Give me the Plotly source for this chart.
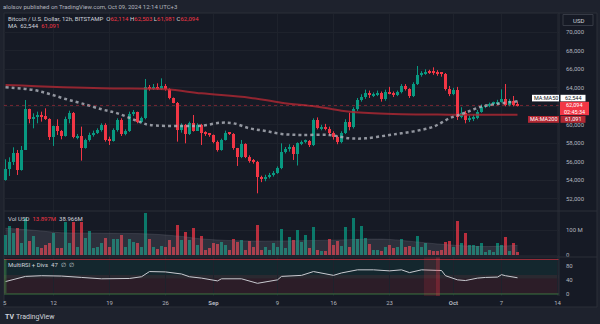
import plotly.graph_objects as go
import pandas as pd

W, H = 600, 324
LM, RM, TM, BM = 4, 41, 14, 28
PW, PH = W - LM - RM, H - TM - BM

def fx(x):
    return (x - LM) / PW

def fy(y):
    return 1 - (y - TM) / PH

# ---------------- data ----------------
start = pd.Timestamp("2024-08-06 00:00")
n_candles = 129
dates = pd.date_range(start, periods=n_candles, freq="12h")

opens = [54035, 55224, 56017, 56918, 55116, 57278, 61674, 60665, 60845, 60953,
         60917, 60665, 58719, 59872, 59332, 58827, 60593, 61313, 58647, 58755,
         57530, 58359, 58863, 59151, 59440, 59980, 58359, 58287, 59440, 60521,
         59007, 59332, 61133, 61349, 60340, 60701, 64052, 63835, 64124, 63907,
         64232, 63835, 62863, 62394, 59440, 59980, 59007, 60161, 59368, 59980,
         59079, 59007, 58899, 58179, 57278, 58359, 59079, 59007, 57458, 56485,
         57926, 56557, 56125, 56017, 54395, 54107, 54395, 54576, 54828, 55296,
         57098, 57350, 57638, 56846, 57998, 58179, 58250, 57818, 60521, 59620,
         59800, 59600, 59079, 58647, 58179, 59151, 60340, 59800, 61674, 62682,
         62971, 63475, 63187, 63300, 63403, 62754, 63583, 63403, 63259, 63547,
         64196, 63835, 63115, 64412, 65385, 65565, 65745, 65673, 65600, 65565,
         65493, 63835, 63295, 63763, 60881, 61241, 60521, 60700, 60773, 61421,
         61962, 62034, 62250, 62322, 62502, 62754, 62142, 62610, 62114]
highs = [56269, 56485, 57566, 57278, 57710, 62682, 61746, 61241, 61421, 61421,
         61782, 60701, 59908, 60593, 59440, 60881, 61530, 61385, 59007, 59800,
         58503, 59151, 59368, 59620, 60161, 60161, 58719, 59620, 60701, 60701,
         59512, 61421, 61602, 61421, 60881, 64952, 64304, 64412, 64484, 65024,
         64412, 63943, 62950, 62466, 60161, 60089, 60341, 61061, 60161, 60100,
         59300, 59100, 58950, 58300, 58500, 59368, 59200, 59100, 57500, 58359,
         58000, 56700, 56300, 56100, 54500, 54600, 54800, 55000, 55500, 57998,
         57600, 57900, 57800, 58100, 58300, 58400, 58350, 60700, 60800, 60000,
         60100, 59800, 59300, 58800, 59300, 60600, 61300, 61900, 62900, 63300,
         63800, 63700, 63500, 63700, 63600, 63800, 64100, 63600, 63700, 64400,
         64400, 63950, 64600, 66357, 65800, 66000, 65950, 66213, 65900, 65700,
         65600, 64200, 64000, 64100, 61900, 61500, 61000, 61100, 61600, 62200,
         62200, 62400, 62500, 62700, 63835, 64412, 62800, 63115, 62503]
lows = [53963, 54468, 55657, 54576, 55044, 57278, 60161, 59620, 60161, 60341,
        60521, 58359, 57710, 58899, 58431, 58719, 60161, 58539, 58431, 56125,
        57422, 58179, 58719, 59007, 59260, 58179, 57818, 58179, 59260, 58791,
        58863, 59224, 60953, 60161, 60161, 60593, 63691, 63763, 63763, 63763,
        63691, 62754, 62322, 58179, 59151, 57999, 58899, 59260, 59332, 57818,
        58800, 58700, 58000, 57100, 57200, 58300, 58900, 57300, 55548, 56400,
        56400, 55900, 55800, 52594, 53800, 53900, 54200, 54400, 54700, 55200,
        56900, 57100, 56197, 55600, 57800, 58000, 57600, 57700, 59500, 59400,
        59400, 58900, 58400, 57900, 58000, 59000, 59400, 59600, 61500, 62500,
        62800, 62900, 63000, 63100, 62500, 62600, 63300, 63000, 63100, 63400,
        63700, 62900, 63000, 64300, 65200, 65400, 65500, 65400, 65300, 65200,
        63700, 63100, 63200, 60521, 60700, 60160, 60300, 60400, 60600, 61300,
        61800, 61900, 62100, 62200, 62400, 62000, 62000, 62000, 61981]
closes = [55224, 56017, 56918, 55116, 57278, 61674, 60665, 60845, 60953, 60917,
          60665, 58719, 59872, 59332, 58827, 60593, 61313, 58647, 58755, 57530,
          58359, 58863, 59151, 59440, 59980, 58359, 58287, 59440, 60521, 59007,
          59332, 61133, 61349, 60340, 60701, 64052, 63835, 64124, 63907, 64232,
          63835, 62863, 62394, 59440, 59980, 59007, 60161, 59368, 59980, 59079,
          59007, 58899, 58179, 57278, 58359, 59079, 59007, 57458, 56485, 57926,
          56557, 56125, 56017, 54395, 54107, 54395, 54576, 54828, 55296, 57098,
          57350, 57638, 56846, 57998, 58179, 58250, 57818, 60521, 59620, 59800,
          59600, 59079, 58647, 58179, 59151, 60340, 59800, 61674, 62682, 62971,
          63475, 63187, 63300, 63403, 62754, 63583, 63403, 63259, 63547, 64196,
          63835, 63115, 64412, 65385, 65565, 65745, 65673, 65600, 65565, 65493,
          63835, 63295, 63763, 60881, 61241, 60521, 60700, 60773, 61421, 61962,
          62034, 62250, 62322, 62502, 62754, 62142, 62610, 62142, 62094]
volumes_m = [81, 117, 90, 108, 47, 148, 57, 77, 34, 27, 40, 50, 90, 27, 27, 135, 50, 132,
             34, 135, 67, 98, 27, 31, 47, 67, 34, 64, 64, 81, 34, 64, 54, 50, 34, 169,
             64, 34, 23, 37, 34, 60, 34, 121, 60, 94, 60, 108, 40, 77, 20, 27, 47, 44,
             51, 40, 20, 65, 51, 61, 20, 57, 34, 121, 20, 34, 20, 47, 34, 105, 27, 74,
             61, 101, 51, 81, 30, 115, 20, 18, 16, 65, 40, 57, 38, 115, 34, 148, 65, 119,
             70, 44, 20, 20, 17, 34, 40, 27, 34, 64, 34, 36, 34, 77, 34, 47, 20, 17,
             17, 20, 54, 57, 31, 138, 50, 90, 40, 40, 36, 50, 13, 20, 13, 50, 40, 72,
             17, 50, 13.897]

# moving averages / indicator read at sampled candles (candle index, value)
ma50_idx = [0, 7, 11, 15, 19, 24, 28, 34, 36, 44, 49, 54, 57, 61, 65, 69, 74, 81, 86,
            90, 96, 99, 103, 107, 111, 115, 119, 124, 128]
ma50_val = [64052, 63763, 63331, 62791, 62322, 61674, 61241, 60232, 59980, 59872, 59908,
            60232, 60160, 59620, 59332, 59007, 58899, 58899, 58539, 58539, 58899, 59079,
            59368, 59800, 60701, 61313, 61962, 62322, 62544]
ma200_idx = [0, 24, 40, 49, 61, 69, 78, 84, 92, 99, 111, 128]
ma200_val = [64304, 63943, 63835, 63403, 62935, 62394, 61962, 61530, 61241, 61133, 61097, 61091]
volma_idx = [0, 7, 14, 24, 36, 44, 49, 57, 65, 74, 82, 90, 96, 102, 110, 119, 128]
volma_val = [108, 100, 90, 88, 85, 75, 65, 58, 56, 58, 60, 64, 63, 54, 42, 34, 38.966]
rsi_idx = [0, 5, 9, 14, 19, 24, 31, 34, 36, 40, 44, 46, 49, 53, 54, 59, 63, 68, 69, 74,
           77, 82, 84, 88, 92, 96, 99, 101, 104, 108, 109, 110, 113, 115, 118, 120, 123,
           124, 125, 128]
rsi_val = [36, 51, 53, 52, 48, 44, 45, 50, 65, 64, 58, 50, 46, 38, 44, 44, 31, 41, 51, 54,
           65, 54, 61, 70, 70, 67, 70, 62, 70, 70, 68, 53, 41, 39, 46, 48, 49, 56, 53, 47]
rsi_last = 47
countdown = "02:45:34"

# x-axis labels
tick_dates = ["2024-08-12", "2024-08-19", "2024-08-26", "2024-09-01", "2024-09-09",
              "2024-09-16", "2024-09-23", "2024-10-01", "2024-10-07", "2024-10-14"]
tick_text = ["12", "19", "26", "<b>Sep</b>", "9", "16", "23", "<b>Oct</b>", "7", "14"]
price_ticks = list(range(52000, 70001, 2000))

# ---------------- styles ----------------
GREEN = "#089981"
RED = "#f23645"
MA200C = "#b22833"
MA50C = "#b2b5be"
TXT = "#b2b5be"
GRID = "#1e222c"
PANEL = "#161a25"
OUTER = "#1e222d"
SEP = "#2a2e39"
FONT = "Roboto"
half = pd.Timedelta(hours=12)
xr = [start - half * 0.375, start + half * 138.375]
bw = 9 * 3600 * 1000  # body width (3 px)

up = [c >= o for o, c in zip(opens, closes)]
d_at = lambda i: start + half * i

fig = go.Figure()

# wicks
for flag, col in ((True, GREEN), (False, RED)):
    wx, wy = [], []
    for i in range(n_candles):
        if up[i] == flag:
            wx += [dates[i], dates[i], None]
            wy += [lows[i], highs[i], None]
    fig.add_trace(go.Scatter(x=wx, y=wy, mode="lines", line=dict(color=col, width=1),
                             hoverinfo="skip", yaxis="y"))

# bodies
fig.add_trace(go.Bar(x=dates, base=[min(o, c) for o, c in zip(opens, closes)],
                     y=[max(abs(c - o), 110) for o, c in zip(opens, closes)],
                     width=bw, marker=dict(color=[GREEN if u else RED for u in up], line=dict(width=0)),
                     yaxis="y"))

# MAs
fig.add_trace(go.Scatter(x=[d_at(i) for i in ma200_idx], y=ma200_val, mode="lines",
                         line=dict(color=MA200C, width=2, shape="spline"), opacity=0.8, yaxis="y"))
fig.add_trace(go.Scatter(x=[d_at(i) for i in ma50_idx], y=ma50_val, mode="lines",
                         line=dict(color=MA50C, width=2.5, dash="dot", shape="spline"), opacity=0.8, yaxis="y"))

# volume MA area and bars
fig.add_trace(go.Scatter(x=[d_at(i) for i in volma_idx], y=[v * 1e6 for v in volma_val],
                         mode="lines", fill="tozeroy",
                         line=dict(color="rgba(120,123,134,0.25)", width=1, shape="spline"),
                         fillcolor="rgba(120,123,134,0.24)", yaxis="y2"))
fig.add_trace(go.Bar(x=dates, y=[v * 1e6 for v in volumes_m], width=bw,
                     marker=dict(color=["rgba(8,153,129,0.75)" if u else "rgba(242,54,69,0.75)" for u in up],
                                 line=dict(width=0)), yaxis="y2"))

# RSI
fig.add_trace(go.Scatter(x=[d_at(i) for i in rsi_idx], y=rsi_val, mode="lines",
                         line=dict(color="#c8cad0", width=1), yaxis="y3"))

shapes = []
def prect(x0, x1, y0, y1, fill, line=None, layer="above"):
    shapes.append(dict(type="rect", xref="paper", yref="paper", x0=fx(x0), x1=fx(x1), y0=fy(y1), y1=fy(y0),
                       fillcolor=fill, line=line or dict(width=0), layer=layer))

# panel background
prect(4, 597, 13, 307, PANEL, dict(color=SEP, width=1), layer="below")
# RSI zones
shapes.append(dict(type="rect", xref="paper", yref="y3", x0=0, x1=1, y0=45, y1=100,
                   fillcolor="rgba(8,153,129,0.10)", line=dict(width=0), layer="below"))
shapes.append(dict(type="rect", xref="paper", yref="y3", x0=0, x1=1, y0=0, y1=55,
                   fillcolor="rgba(242,54,69,0.10)", line=dict(width=0), layer="below"))
shapes.append(dict(type="line", xref="paper", yref="y3", x0=0, x1=1, y0=100, y1=100,
                   line=dict(color="rgba(242,54,69,0.6)", width=1)))
shapes.append(dict(type="line", xref="paper", yref="y3", x0=0, x1=1, y0=0, y1=0,
                   line=dict(color="rgba(76,175,80,0.6)", width=1)))
# divergence highlights
shapes.append(dict(type="rect", xref="x", yref="paper", x0=d_at(104.6), x1=d_at(107.6), y0=fy(296), y1=fy(257),
                   fillcolor="rgba(242,54,69,0.15)", line=dict(width=0)))
shapes.append(dict(type="rect", xref="x", yref="paper", x0=d_at(107.6), x1=d_at(108.6), y0=fy(296), y1=fy(257),
                   fillcolor="rgba(242,54,69,0.35)", line=dict(width=0)))
prect(4, 6.5, 259, 293, "rgba(76,175,80,0.35)")
# last price line
shapes.append(dict(type="line", xref="paper", yref="y", x0=0, x1=1, y0=closes[-1], y1=closes[-1],
                   line=dict(color="rgba(242,54,69,0.45)", width=1, dash="dot")))
# pane separators
for yy in (211, 257):
    shapes.append(dict(type="line", xref="paper", yref="paper", x0=fx(4), x1=fx(597), y0=fy(yy), y1=fy(yy),
                       line=dict(color=SEP, width=1)))
shapes.append(dict(type="line", xref="paper", yref="paper", x0=fx(559), x1=fx(559), y0=fy(296), y1=fy(13),
                   line=dict(color=SEP, width=1)))
# USD box
prect(563, 593, 14.5, 25.5, PANEL, dict(color="#363a45", width=1))
# price-scale label boxes
prect(532, 559, 94.8, 101.4, "#ffffff")
prect(560.5, 585.5, 94.8, 101.4, "#ffffff")
prect(560, 589, 101.8, 115.2, RED)
prect(528, 559, 116, 122.8, MA200C)
prect(560.5, 585.5, 116, 122.8, MA200C)

ann = []
def txt(x, y, s, size=6, color=TXT, anchor="left"):
    ann.append(dict(x=fx(x), y=fy(y), xref="paper", yref="paper", text=s, showarrow=False,
                    xanchor=anchor, yanchor="middle", borderpad=0,
                    font=dict(family=FONT, size=size, color=color)))

fmt = lambda v: f"{v:,.0f}"
R = lambda s: f"<span style='color:{RED}'>{s}</span>"
txt(2, 6.5, "alolsov published on TradingView.com, Oct 09, 2024 12:14 UTC+3", size=6, color="#b2b5be")
txt(7, 19, "Bitcoin / U.S. Dollar, 12h, BITSTAMP  O" + R(fmt(opens[-1])) + " H" + R(fmt(highs[-1]))
    + " L" + R(fmt(lows[-1])) + " C" + R(fmt(closes[-1])), size=6, color="#d1d4dc")
txt(7, 25.5, "MA  <span style='color:#d1d4dc'>" + fmt(ma50_val[-1]) + "</span>  " + R(fmt(ma200_val[-1])),
    size=6, color="#d1d4dc")
txt(7, 218, "Vol USD  " + R(f"{volumes_m[-1]:.3f}M") + "  " + f"{volma_val[-1]:.3f}M", size=6, color="#d1d4dc")
txt(7, 264.5, f"MultiRSI + Divs  {rsi_last}  \u2205  \u2205", size=6, color="#d1d4dc")
txt(5, 302.5, "5", size=6, color=TXT, anchor="center")
txt(578, 20, "USD", size=6, color="#d1d4dc", anchor="center")
txt(4, 316.5, "<b>TV</b>", size=7, color="#d1d4dc")
txt(15, 316.5, "TradingView", size=7, color="#d1d4dc")

# price-scale label texts
txt(545.5, 98.1, "MA:MA50", size=5.5, color="#131722", anchor="center")
txt(573, 98.1, fmt(ma50_val[-1]), size=5.5, color="#131722", anchor="center")
txt(574.5, 105.2, fmt(closes[-1]), size=5.5, color="#ffffff", anchor="center")
txt(574.5, 111.8, countdown, size=5.5, color="#ffffff", anchor="center")
txt(543.5, 119.4, "MA:MA200", size=5.5, color="#ffffff", anchor="center")
txt(573, 119.4, fmt(ma200_val[-1]), size=5.5, color="#ffffff", anchor="center")

axfont = dict(family=FONT, size=6, color=TXT)
fig.update_layout(
    width=W, height=H, margin=dict(l=LM, r=RM, t=TM, b=BM),
    paper_bgcolor=OUTER, plot_bgcolor="rgba(0,0,0,0)",
    showlegend=False, barmode="overlay", bargap=0,
    shapes=shapes, annotations=ann,
    xaxis=dict(type="date", range=xr, domain=[0, 1], anchor="y3", tickvals=tick_dates, ticktext=tick_text,
               showgrid=True, gridcolor=GRID, gridwidth=1, zeroline=False, showline=False,
               tickfont=axfont, ticks="", ticklabelstandoff=2, fixedrange=True),
    yaxis=dict(domain=[fy(211), 1], range=[50681, 71978], side="right", anchor="x",
               tickvals=price_ticks, tickformat=",", showgrid=True, gridcolor=GRID, zeroline=False,
               tickfont=axfont, ticks="", ticklabelstandoff=6),
    yaxis2=dict(domain=[fy(257), fy(211)], range=[-8.1e6, 178e6], side="right", anchor="x",
                tickvals=[0, 1e8], ticktext=["0", "100 M"], showgrid=True, gridcolor=GRID, zeroline=False,
                tickfont=axfont, ticks="", ticklabelstandoff=6),
    yaxis3=dict(domain=[0, fy(257)], range=[-5.8, 107.2], side="right", anchor="x",
                tickvals=[0, 40, 80], showgrid=False, zeroline=False,
                tickfont=axfont, ticks="", ticklabelstandoff=6),
)

fig.write_html("out.html")
